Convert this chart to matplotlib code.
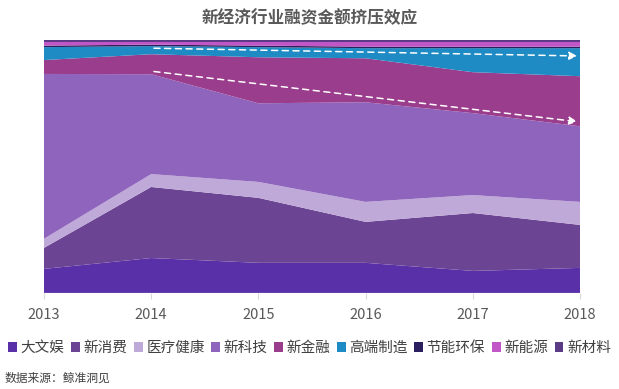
import matplotlib
matplotlib.use('Agg')
import matplotlib.pyplot as plt
from matplotlib.patches import Patch

plt.rcParams['font.family'] = ['Noto Sans CJK SC', 'DejaVu Sans']

# 数据（占比 %，从图中估读）
years = [2013, 2014, 2015, 2016, 2017, 2018]
categories = ['大文娱', '新消费', '医疗健康', '新科技', '新金融', '高端制造', '节能环保', '新能源', '新材料']
dawenyu = [9.5, 13.8, 11.9, 11.9, 8.7, 9.9]
xinxiaofei = [8.3, 28.1, 25.7, 16.2, 22.9, 17.0]
yiliao = [3.6, 5.1, 6.3, 7.9, 7.1, 9.1]
xinkeji = [65.2, 39.5, 31.1, 39.4, 32.4, 29.9]
xinjinrong = [5.5, 7.9, 18.2, 17.4, 16.2, 19.8]
gaoduan = [5.1, 3.2, 4.0, 4.0, 9.5, 11.1]
jieneng = [0.6, 0.6, 0.6, 0.6, 0.6, 0.6]
xinnengyuan = [1.6, 1.2, 1.6, 2.0, 2.0, 2.0]
xincailiao = [0.6, 0.6, 0.6, 0.6, 0.6, 0.6]

colors = ['#5a30a9', '#6b4493', '#bfa9d9', '#8f64bc', '#9b3d8d',
          '#1f8bc4', '#2b1f5f', '#c157c6', '#5b3a86']

fig = plt.figure(figsize=(6.19, 3.89), dpi=100)
ax = fig.add_axes([0.071, 0.247, 0.866, 0.650])

series = [dawenyu, xinxiaofei, yiliao, xinkeji, xinjinrong,
          gaoduan, jieneng, xinnengyuan, xincailiao]
ax.stackplot(years, *series, colors=colors, linewidth=0)

ax.set_xlim(2013, 2018)
ax.set_ylim(0, 100)
ax.set_yticks([])
for s in ax.spines.values():
    s.set_visible(False)
ax.set_xticks(years)
ax.tick_params(axis='x', colors='#d9d9d9', labelcolor='#595959',
               labelsize=10.5, length=4, pad=7)

# 挤压趋势箭头
arrow = dict(arrowstyle='-|>', color='white', lw=1.1, linestyle=(0, (4, 3)),
             mutation_scale=12)
ax.annotate('', xy=(2018, 93.7), xytext=(2014, 96.8), arrowprops=arrow)
ax.annotate('', xy=(2018, 67.6), xytext=(2014, 87.7), arrowprops=arrow)

fig.text(0.5, 0.953, '新经济行业融资金额挤压效应', ha='center', va='center',
         fontsize=12, fontweight='bold', color='#595959')

handles = [Patch(facecolor=c, edgecolor='none') for c in colors]
fig.legend(handles, categories, loc='center', bbox_to_anchor=(0.5, 0.105),
           ncol=9, frameon=False, fontsize=10.5, handlelength=0.6,
           handleheight=0.6, handletextpad=0.25, columnspacing=0.45,
           labelcolor='#404040', borderpad=0.1)

fig.text(0.008, 0.028, '数据来源：鲸准洞见', ha='left', va='center',
         fontsize=8.5, color='#404040')

fig.savefig('out.png', dpi=100)
